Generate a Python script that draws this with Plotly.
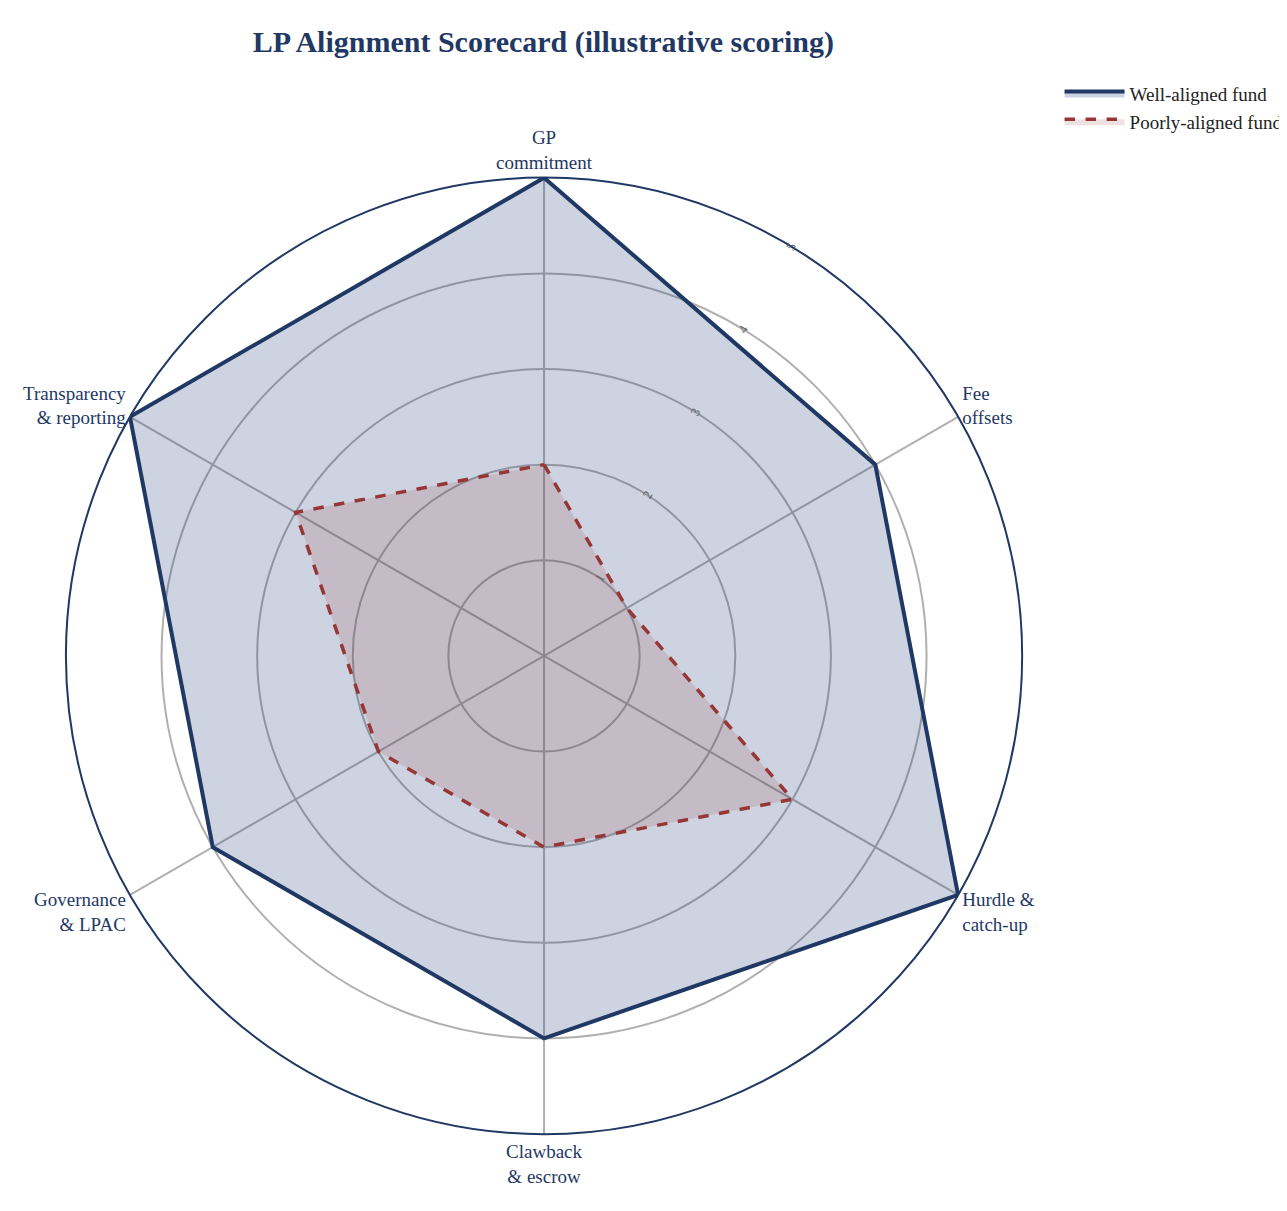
import plotly.graph_objects as go

categories = ["GP<br>commitment", "Fee<br>offsets", "Hurdle &<br>catch-up", "Clawback<br>& escrow", "Governance<br>& LPAC", "Transparency<br>& reporting"]
well = [5, 4, 5, 4, 4, 5]
poor = [2, 1, 3, 2, 2, 3]

navy = "#1f3864"
red = "#953735"

fig = go.Figure()
fig.add_trace(go.Scatterpolar(r=well + well[:1], theta=categories + categories[:1], mode="lines",
    name="Well-aligned fund", line=dict(color=navy, width=4), fill="toself",
    fillcolor="rgba(31,56,120,0.22)"))
fig.add_trace(go.Scatterpolar(r=poor + poor[:1], theta=categories + categories[:1], mode="lines",
    name="Poorly-aligned fund", line=dict(color=red, width=3.5, dash="dash"), fill="toself",
    fillcolor="rgba(149,55,53,0.15)"))

fig.update_layout(
    width=1287, height=1211,
    font=dict(family="Liberation Serif", size=19, color=navy),
    title=dict(text="<b>LP Alignment Scorecard (illustrative scoring)</b>", x=0.416, y=0.972,
               xanchor="center", yanchor="middle", font=dict(size=30, color=navy)),
    paper_bgcolor="white",
    polar=dict(
        bgcolor="white",
        domain=dict(x=[0.045, 0.788], y=[0.07, 0.86]),
        angularaxis=dict(rotation=90, direction="clockwise", gridcolor="#b0b0b0", gridwidth=1.5,
                         linecolor=navy, linewidth=2, showline=True, ticks="",
                         tickfont=dict(size=19, color=navy)),
        radialaxis=dict(range=[0, 5], tickvals=[1, 2, 3, 4, 5], angle=60, tickangle=0,
                        showline=False, gridcolor="#b0b0b0", gridwidth=1.5, ticks="",
                        tickfont=dict(size=13, color="#666666")),
    ),
    legend=dict(x=0.995, y=0.945, xanchor="right", yanchor="top", font=dict(size=19, color="#222"),
                bgcolor="rgba(0,0,0,0)", itemwidth=60),
    margin=dict(l=0, r=0, t=0, b=0),
)
fig.write_html("out.html")
